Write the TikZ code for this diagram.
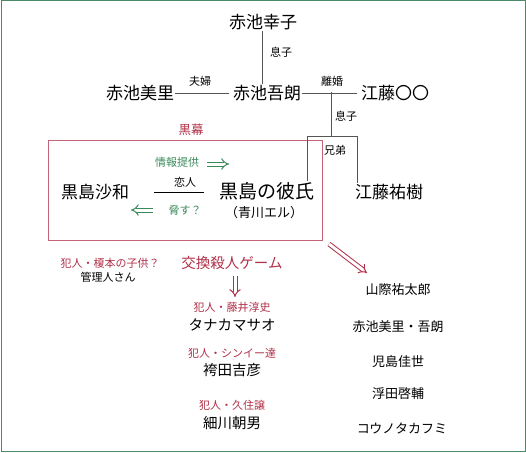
\documentclass[tikz,border=0pt]{standalone}
\usepackage{fontspec}
\setmainfont{Noto Sans CJK JP}
\usetikzlibrary{arrows.meta}

\definecolor{frameg}{HTML}{4A8A6A}
\definecolor{kuro}{HTML}{B03048}
\definecolor{midori}{HTML}{3A8A5A}
\definecolor{sen}{HTML}{555555}

\tikzset{
  big/.style={font=\fontsize{17}{17}\selectfont, inner sep=1pt},
  mid/.style={font=\fontsize{14.5}{14.5}\selectfont, inner sep=1pt},
  lst/.style={font=\fontsize{13}{13}\selectfont, inner sep=1pt},
  small/.style={font=\fontsize{11}{11}\selectfont, inner sep=1pt},
  red/.style={text=kuro},
  rel/.style={draw=sen, line width=0.8pt},
  dbl/.style={double, double distance=3pt, line width=1pt, -{Implies[length=6pt]}}
}

\begin{document}
\begin{tikzpicture}[x=1pt, y=-1pt]
\useasboundingbox (0,0) rectangle (526,452);
\draw[frameg, line width=1pt] (1,1) rectangle (525,451);

% family
\node[big] (sachiko) at (263,22) {赤池幸子};
\node[big] (misato) at (140,93) {赤池美里};
\node[big] (goro) at (267,93) {赤池吾朗};
\node[big] (eto) at (395,93) {江藤〇〇};
\node[small] (musuko) at (281,52) {息子};
\node[small] (fufu) at (200,81) {夫婦};
\node[small] (rikon) at (332,81) {離婚};
\node[small] (musukob) at (346,116) {息子};

\draw[rel] ([xshift=-1pt]sachiko.south) -- ([xshift=-1pt]sachiko.south |- goro.north);
\draw[rel, shorten >=3pt] (misato.east) -- (goro.west);
\draw[rel, shorten >=3pt] (goro.east) -- (eto.west);

% brothers
\coordinate (rk) at (331,92);
\coordinate (kl) at (307,136);
\coordinate (kr) at (357,136);
\coordinate (km) at (331,136);
\node[small] (kyodai) at (335,150) {兄弟};

% kuromaku box
\node[red, font=\fontsize{12.5}{12.5}\selectfont] (kuromaku) at (191,130) {黒幕};
\draw[kuro!75, line width=0.8pt] (48,140) rectangle (322,240);

\node[big] (sawa) at (95,192) {黒島沙和};
\node[big, font=\fontsize{19}{19}\selectfont] (kareshi) at (267,191) {黒島の彼氏};
\node[font=\fontsize{13}{13}\selectfont, inner sep=1pt] (aokawa) at (264,213) {（青川エル）};
\node[big] (yuki) at (389,192) {江藤祐樹};
\node[small] (koibito) at (185,182) {恋人};
\node[small, text=midori] (joho) at (177,162) {情報提供};
\node[small, text=midori] (odosu) at (185,210) {脅す？};

\draw[rel] (rk) -- (km);
\draw[rel] (kl) -- (kr);
\draw[rel] (kl) -- (kl |- kareshi.north);
\draw[rel] (kr) -- (kr |- yuki.north);
\draw[black, line width=0.8pt] (154,192) -- (204,192);

\draw[dbl, midori] (207,164) -- (229,164);
\draw[dbl, midori] (153,210) -- (131,210);

% game
\node[small, red] (enomoto) at (110,263) {犯人・榎本の子供？};
\node[small] (kanri) at (108,277) {管理人さん};
\node[mid, red] (game) at (232,263) {交換殺人ゲーム};
\draw[dbl, kuro] (235,276) -- (235,297);

\node[small, red] (fujii) at (232,307) {犯人・藤井淳史};
\node[mid] (tanaka) at (232,325) {タナカマサオ};
\node[small, red] (shinyi) at (232,353) {犯人・シンイー達};
\node[mid] (hakama) at (232,370) {袴田吉彦};
\node[small, red] (kusumi) at (232,405) {犯人・久住譲};
\node[mid] (hosokawa) at (232,423) {細川朝男};

% list
\draw[dbl, kuro] (329,244) -- (367,273);
\node[lst] (yamagiwa) at (398,290) {山際祐太郎};
\node[lst] (akaike) at (398,327) {赤池美里・吾朗};
\node[lst] (kojima) at (398,362) {児島佳世};
\node[lst] (ukita) at (398,394) {浮田啓輔};
\node[lst] (kono) at (402,428) {コウノタカフミ};
\end{tikzpicture}
\end{document}
